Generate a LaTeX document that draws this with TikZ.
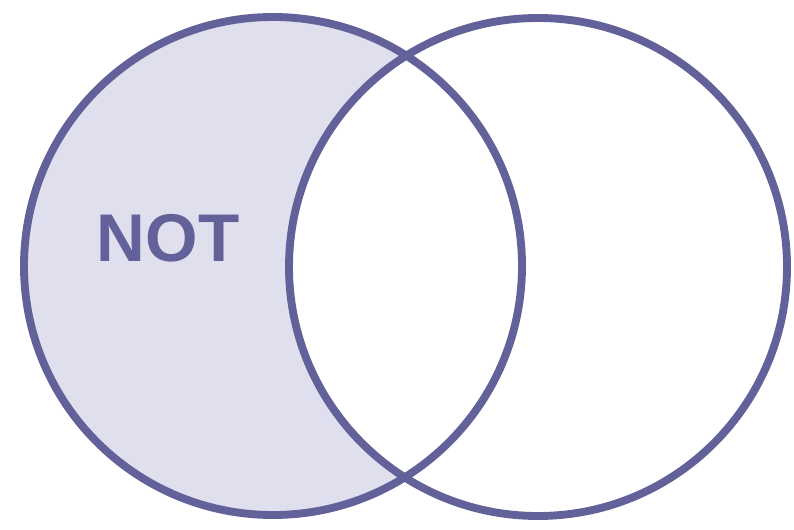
\documentclass[tikz,border=0pt]{standalone}
\usepackage{fontspec}
\setsansfont{Liberation Sans}
\usepackage{tikz}
\definecolor{vennline}{HTML}{62619A}
\definecolor{vennfill}{HTML}{DFDFEE}

\begin{document}
\begin{tikzpicture}[
  x=0.025cm, y=-0.025cm,
  ring/.style ={draw=vennline, line width=5.6pt},
  shade/.style={fill=vennfill},
  lbl/.style  ={font=\sffamily\bfseries\fontsize{48}{48}\selectfont, text=vennline, inner sep=0pt},
]
\useasboundingbox (0,0) rectangle (794,530);

% ---- set centres ----
\coordinate (A) at (273,266);
\coordinate (B) at (538,267);

% ---- A minus B ----
\fill[shade] (A) circle[radius=249];
\begin{scope}
  \clip (A) circle[radius=249];
  \fill[white] (B) circle[radius=249];
\end{scope}

% ---- outlines ----
\draw[ring] (A) circle[radius=249];
\draw[ring] (B) circle[radius=249];

\node[lbl] (nt) at (168,238) {NOT};
\end{tikzpicture}
\end{document}
